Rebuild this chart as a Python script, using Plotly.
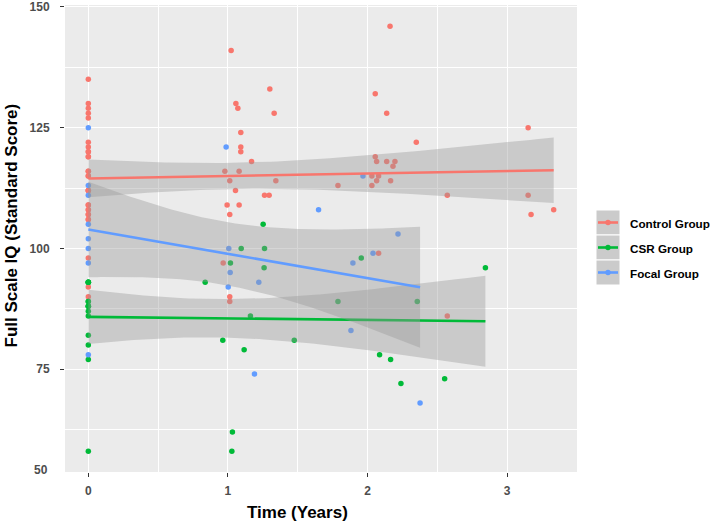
import numpy as np
import plotly.graph_objects as go

# ---------------- data (x=0 has overlapping duplicates) ----------------
control_time = [0]*29 + [1.023, 1.30, 1.057, 1.071, 1.331, 1.092, 1.092, 1.092, 1.169, 0.978, 1.080,
                         1.013, 1.343, 1.054, 1.262, 1.295, 0.994, 1.080, 1.013, 0.966, 1.013, 1.013,
                         1.788, 2.161, 2.055, 2.137, 3.150, 2.349, 2.055, 2.065, 2.137, 2.196, 2.182,
                         2.031, 2.079, 2.065, 2.165, 2.031, 2.571, 3.150, 3.333, 3.171, 2.079, 2.571]
control_iq = [135, 130, 129, 128, 127, 122, 121, 120, 119, 116, 115, 112, 109, 108, 107, 106, 98, 92, 90,
              120, 119, 116, 115, 112, 112, 109, 108, 107, 106,
              141, 133, 130, 129, 128, 124, 121, 120, 118, 116, 116,
              114, 114, 112, 111, 111, 109, 109, 107, 97, 90, 89,
              113, 146, 132, 128, 125, 122, 119, 118, 118, 118, 117,
              115, 115, 114, 114, 113, 111, 111, 108, 107, 99, 86]

csr_time = [0]*15 + [1.252, 1.095, 1.262, 1.018, 1.259, 0.837, 1.788, 1.161, 0.963, 1.475, 1.116,
                     1.032, 1.028, 1.955, 2.844, 2.356, 2.086, 2.165, 2.552, 2.239]
csr_iq = [93, 89, 88, 87, 86, 82, 80, 77, 58, 93, 93, 93, 89, 88, 88,
          105, 100, 100, 97, 96, 93, 89, 86, 81, 81, 79,
          62, 58, 98, 96, 89, 78, 77, 73, 72]

focal_time = [0]*8 + [0.987, 1.649, 1.006, 1.016, 1.221, 1.002, 1.881, 1.190, 2.218, 1.967, 2.039,
                      1.895, 2.376]
focal_iq = [125, 113, 111, 105, 102, 100, 97, 78,
            121, 108, 100, 95, 93, 92, 83, 74, 103, 115, 99, 97, 68]

group_names = ["Control Group", "CSR Group", "Focal Group"]
group_colors = ["#F8766D", "#00BA38", "#619CFF"]

y_ticks = [75, 100, 125, 150]
x_ticks = [0, 1, 2, 3]

# ---------------- helpers ----------------
W, H = 711, 523
L, R, T, B = 65, 577, 5, 472  # panel box in pixels


def px_x(p):
    return (p - L) / (R - L)


def px_y(p):
    return (B - p) / (B - T)


def t_quantile(df):
    z = 1.959964
    return (z + (z**3 + z) / (4 * df) + (5 * z**5 + 16 * z**3 + 3 * z) / (96 * df**2)
            + (3 * z**7 + 19 * z**5 + 17 * z**3 - 15 * z) / (384 * df**3))


def lm_fit(x, y):
    x = np.asarray(x, float)
    y = np.asarray(y, float)
    n = len(x)
    b, a = np.polyfit(x, y, 1)
    res = y - (a + b * x)
    s = np.sqrt((res**2).sum() / (n - 2))
    xs = np.linspace(x.min(), x.max(), 80)
    yh = a + b * xs
    se = s * np.sqrt(1 / n + (xs - x.mean())**2 / ((x - x.mean())**2).sum())
    t = t_quantile(n - 2)
    return xs, yh, yh - t * se, yh + t * se


groups = [(control_time, control_iq), (csr_time, csr_iq), (focal_time, focal_iq)]

fig = go.Figure()

# points
for (gx, gy), name, col in zip(groups, group_names, group_colors):
    fig.add_trace(go.Scatter(x=gx, y=gy, mode="markers", name=name, showlegend=False,
                             marker=dict(color=col, size=5.5, line=dict(width=0)),
                             hoverinfo="x+y"))

# smooths (ribbon then line, per group)
for (gx, gy), name, col in zip(groups, group_names, group_colors):
    xs, yh, lo, hi = lm_fit(gx, gy)
    fig.add_trace(go.Scatter(x=np.concatenate([xs, xs[::-1]]), y=np.concatenate([hi, lo[::-1]]),
                             mode="lines", fill="toself", fillcolor="rgba(153,153,153,0.4)",
                             line=dict(width=0), showlegend=False, hoverinfo="skip"))
    fig.add_trace(go.Scatter(x=xs, y=yh, mode="lines", line=dict(color=col, width=2.6),
                             showlegend=False, hoverinfo="skip"))

axis_common = dict(showline=False, zeroline=False, automargin=False, ticks="outside", ticklen=4,
                   tickwidth=1.1, tickcolor="#333333", gridcolor="white", gridwidth=1.1,
                   tickfont=dict(family="Liberation Sans, Arial, sans-serif", size=12,
                                 color="#4D4D4D", weight="bold"))

fig.update_layout(
    width=W, height=H,
    margin=dict(l=L, r=W - R, t=T, b=H - B, autoexpand=False),
    paper_bgcolor="white", plot_bgcolor="#EBEBEB",
    showlegend=False,
    xaxis=dict(range=[-0.167, 3.5], tickvals=x_ticks, ticklabelstandoff=4,
               minor=dict(dtick=0.5, tick0=0, showgrid=True, gridcolor="white", gridwidth=0.55,
                          ticks=""), **axis_common),
    yaxis=dict(range=[53.7, 150.4], tickvals=y_ticks, ticklabelstandoff=8,
               minor=dict(dtick=12.5, tick0=0, showgrid=True, gridcolor="white", gridwidth=0.55,
                          ticks=""), **axis_common),
)

title_font = dict(family="Liberation Sans, Arial, sans-serif", size=17, color="black", weight="bold")
annotations = [
    dict(text="Time (Years)", x=px_x(297), y=px_y(512), xref="paper", yref="paper",
         showarrow=False, xanchor="center", yanchor="middle", font=title_font),
    dict(text="Full Scale IQ (Standard Score)", x=px_x(11), y=px_y(225.5), xref="paper",
         yref="paper", showarrow=False, xanchor="center", yanchor="middle", textangle=-90,
         font=title_font),
    dict(text="50", x=px_x(50), y=px_y(470), xref="paper", yref="paper", showarrow=False,
         xanchor="right", yanchor="middle",
         font=dict(family="Liberation Sans, Arial, sans-serif", size=12, color="#4D4D4D",
                   weight="bold")),
]

# manual legend (ggplot style keys)
shapes = []
row_top = [210, 235, 260]
for top, name, col in zip(row_top, group_names, group_colors):
    cy = top + 12.5
    shapes.append(dict(type="rect", xref="paper", yref="paper", x0=px_x(596), x1=px_x(620),
                       y0=px_y(top + 25), y1=px_y(top), fillcolor="#CBCBCB",
                       line=dict(color="white", width=1)))
    shapes.append(dict(type="line", xref="paper", yref="paper", x0=px_x(598), x1=px_x(618),
                       y0=px_y(cy), y1=px_y(cy), line=dict(color=col, width=2.6)))
    shapes.append(dict(type="circle", xref="paper", yref="paper", x0=px_x(605.3), x1=px_x(610.7),
                       y0=px_y(cy + 2.7), y1=px_y(cy - 2.7), fillcolor=col, line=dict(width=0)))
    annotations.append(dict(text=name, x=px_x(628), y=px_y(cy + 1), xref="paper", yref="paper",
                            showarrow=False, xanchor="left", yanchor="middle",
                            font=dict(family="Liberation Sans, Arial, sans-serif", size=11.7,
                                      color="black", weight="bold")))

fig.update_layout(annotations=annotations, shapes=shapes)

fig.write_html("out.html", config={"displayModeBar": False},
               post_script="document.body.style.margin='0';document.body.style.overflow='hidden';")
